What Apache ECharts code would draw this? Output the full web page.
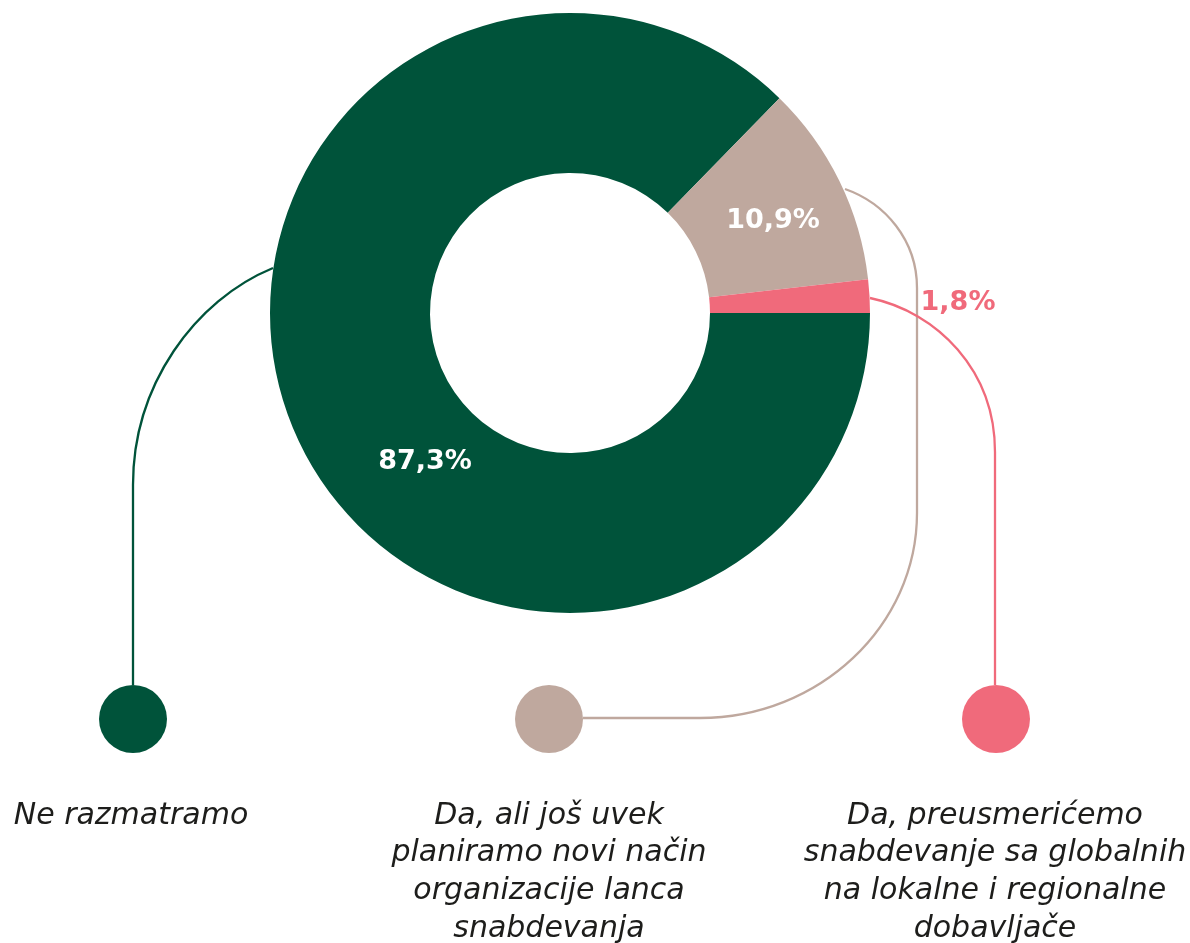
<!DOCTYPE html>
<html>
<head>
<meta charset="utf-8">
<script src="https://cdn.jsdelivr.net/npm/echarts@6/dist/echarts.min.js"></script>
<style>
html,body{margin:0;padding:0;background:#fff;}
#chart{width:1190px;height:943px;}
</style>
</head>
<body>
<div id="chart"></div>
<script>
// ---- data ----
const categories = [
  'Ne razmatramo',
  'Da, ali još uvek planiramo novi način organizacije lanca snabdevanja',
  'Da, preusmerićemo snabdevanje sa globalnih na lokalne i regionalne dobavljače'
];
const categoryLines = [
  ['Ne razmatramo'],
  ['Da, ali još uvek', 'planiramo novi način', 'organizacije lanca', 'snabdevanja'],
  ['Da, preusmerićemo', 'snabdevanje sa globalnih', 'na lokalne i regionalne', 'dobavljače']
];
const values = [87.3, 10.9, 1.8];
const colors = ['#00533A', '#BFA89E', '#F06A7B'];
const labelColors = ['#ffffff', '#ffffff', '#F06A7B'];

// ---- layout ----
const CX = 570, CY = 313, R_IN = 140, R_OUT = 300;
const labelPos = [[425, 462], [773, 221], [958, 303]];
const dotPos = [[133, 719], [549, 719], [996, 719]];
const DOT_R = 34;
const textCenters = [131, 549, 995];
const TEXT_MID = 816;
const LINE_H = 37.7;

function fmt(v) { return v.toFixed(1).replace('.', ',') + '%'; }

// connector segments: ['c', x1,y1, cp1x,cp1y, cp2x,cp2y, x2,y2] or ['l', x1,y1,x2,y2]
const connectors = [
  [['c', 273, 268, 195, 300, 133, 385, 133, 485], ['l', 133, 485, 133, dotPos[0][1] - DOT_R]],
  [['c', 845, 189, 885, 203, 917, 240, 917, 288], ['l', 917, 288, 917, 513],
   ['c', 917, 513, 917, 626, 819, 718, 700, 718], ['l', 700, 718, dotPos[1][0] + DOT_R, 718]],
  [['c', 870, 298, 937, 312, 995, 370, 995, 452], ['l', 995, 452, 995, dotPos[2][1] - DOT_R]]
];

const graphics = [];
connectors.forEach((segs, i) => {
  segs.forEach((s) => {
    const style = { fill: null, stroke: colors[i], lineWidth: 2.3 };
    if (s[0] === 'c') {
      graphics.push({
        type: 'bezierCurve', z: 1, silent: true,
        shape: { x1: s[1], y1: s[2], cpx1: s[3], cpy1: s[4], cpx2: s[5], cpy2: s[6], x2: s[7], y2: s[8] },
        style: style
      });
    } else {
      graphics.push({
        type: 'line', z: 1, silent: true,
        shape: { x1: s[1], y1: s[2], x2: s[3], y2: s[4] },
        style: style
      });
    }
  });
});
dotPos.forEach((d, i) => {
  graphics.push({
    type: 'circle', z: 2, silent: true,
    shape: { cx: d[0], cy: d[1], r: DOT_R },
    style: { fill: colors[i] }
  });
});
categoryLines.forEach((lines, i) => {
  lines.forEach((t, j) => {
    graphics.push({
      type: 'text', z: 3, silent: true,
      x: textCenters[i], y: TEXT_MID + j * LINE_H,
      style: {
        text: t,
        font: 'italic 30px "DejaVu Sans"',
        fill: '#1d1d1b',
        align: 'center', verticalAlign: 'middle'
      }
    });
  });
});

const chart = echarts.init(document.getElementById('chart'), null, { renderer: 'canvas' });
chart.setOption({
  animation: false,
  backgroundColor: '#ffffff',
  graphic: graphics,
  series: [{
    type: 'pie',
    center: [CX, CY],
    radius: [R_IN, R_OUT],
    startAngle: 0,
    clockwise: true,
    z: 5,
    silent: true,
    emphasis: { disabled: true },
    itemStyle: { borderWidth: 0 },
    label: {
      show: true,
      position: 'inside',
      formatter: (p) => fmt(p.value),
      fontFamily: 'DejaVu Sans',
      fontWeight: 'bold',
      fontSize: 27,
      align: 'center',
      verticalAlign: 'middle'
    },
    labelLine: { show: false },
    labelLayout: (params) => ({
      x: labelPos[params.dataIndex][0],
      y: labelPos[params.dataIndex][1],
      align: 'center',
      verticalAlign: 'middle'
    }),
    data: categories.map((c, i) => ({
      name: c,
      value: values[i],
      itemStyle: { color: colors[i] },
      label: { color: labelColors[i] }
    }))
  }]
});
</script>
</body>
</html>
